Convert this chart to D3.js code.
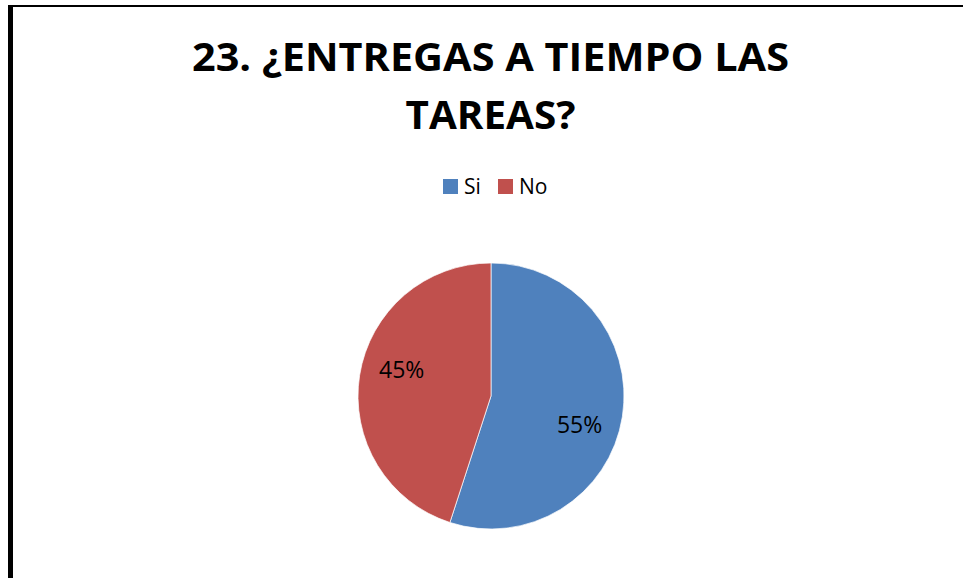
<!DOCTYPE html>
<html>
<head>
<meta charset="utf-8">
<script src="https://cdn.jsdelivr.net/npm/d3@7"></script>
<style>
  body { margin: 0; background: #fff; }
  svg { display: block; font-family: "Open Sans", sans-serif; }
</style>
</head>
<body>
<svg id="chart" width="963" height="578"></svg>
<script>
// data
var categories = ['Si', 'No'];
var values = [55, 45];
var colors = ['#4F81BD', '#C0504D'];
var titleLines = ['23. ¿ENTREGAS A TIEMPO LAS', 'TAREAS?'];

var svg = d3.select('#chart');
var W = 963, H = 578;

svg.append('rect')
    .attr('width', W).attr('height', H)
    .style('fill', '#fff');

// frame left/top (the rest is cut off in the picture)
svg.append('rect')
    .attr('x', 8).attr('y', 5)
    .attr('width', W - 8).attr('height', 2)
    .style('fill', '#000');
svg.append('rect')
    .attr('x', 8).attr('y', 5)
    .attr('width', 5).attr('height', H - 5)
    .style('fill', '#000');

// title
var titleWidths = [597, 170];
svg.selectAll('text.title')
    .data(titleLines)
    .enter()
    .append('text')
    .attr('class', 'title')
    .attr('x', 490.5)
    .attr('y', function(d, i){ return 71 + i * 58; })
    .attr('text-anchor', 'middle')
    .style('font-size', '40px')
    .style('font-weight', 'bold')
    .style('fill', '#000')
    .attr('textLength', function(d, i){ return titleWidths[i]; })
    .attr('lengthAdjust', 'spacingAndGlyphs')
    .text(function(d){ return d; });

// legend
var legendX = d3.scaleOrdinal().domain(categories).range([443, 498]);
var legend = svg.selectAll('g.legend')
    .data(categories)
    .enter()
    .append('g')
    .attr('class', 'legend')
    .attr('transform', function(d){ return 'translate(' + legendX(d) + ',179)'; });
legend.append('rect')
    .attr('width', 15).attr('height', 15)
    .style('fill', function(d, i){ return colors[i]; });
legend.append('text')
    .attr('x', 21).attr('y', 15)
    .style('font-size', '21px')
    .style('fill', '#000')
    .text(function(d){ return d; });

// pie
var cx = 491, cy = 396, r = 133;
var pie = d3.pie().sort(null).value(function(d){ return d; });
var arc = d3.arc().innerRadius(0).outerRadius(r);
var arcs = pie(values);

// label point a bit past the middle of each slice, like excel puts it
function labelPos(d){
    var a = d.startAngle + (d.endAngle - d.startAngle) * 0.545;
    var lr = r * 0.7;
    return [Math.sin(a) * lr, -Math.cos(a) * lr];
}

var g = svg.append('g').attr('transform', 'translate(' + cx + ',' + cy + ')');
g.selectAll('path')
    .data(arcs)
    .enter()
    .append('path')
    .attr('d', arc)
    .style('fill', function(d, i){ return colors[i]; })
    .style('stroke', '#fff')
    .style('stroke-width', 0.7);

g.selectAll('text')
    .data(arcs)
    .enter()
    .append('text')
    .attr('transform', function(d){ return 'translate(' + labelPos(d) + ')'; })
    .attr('text-anchor', 'middle')
    .attr('dy', '0.36em')
    .style('font-size', '23px')
    .style('fill', '#000')
    .text(function(d){ return d.value + '%'; });
</script>
</body>
</html>
